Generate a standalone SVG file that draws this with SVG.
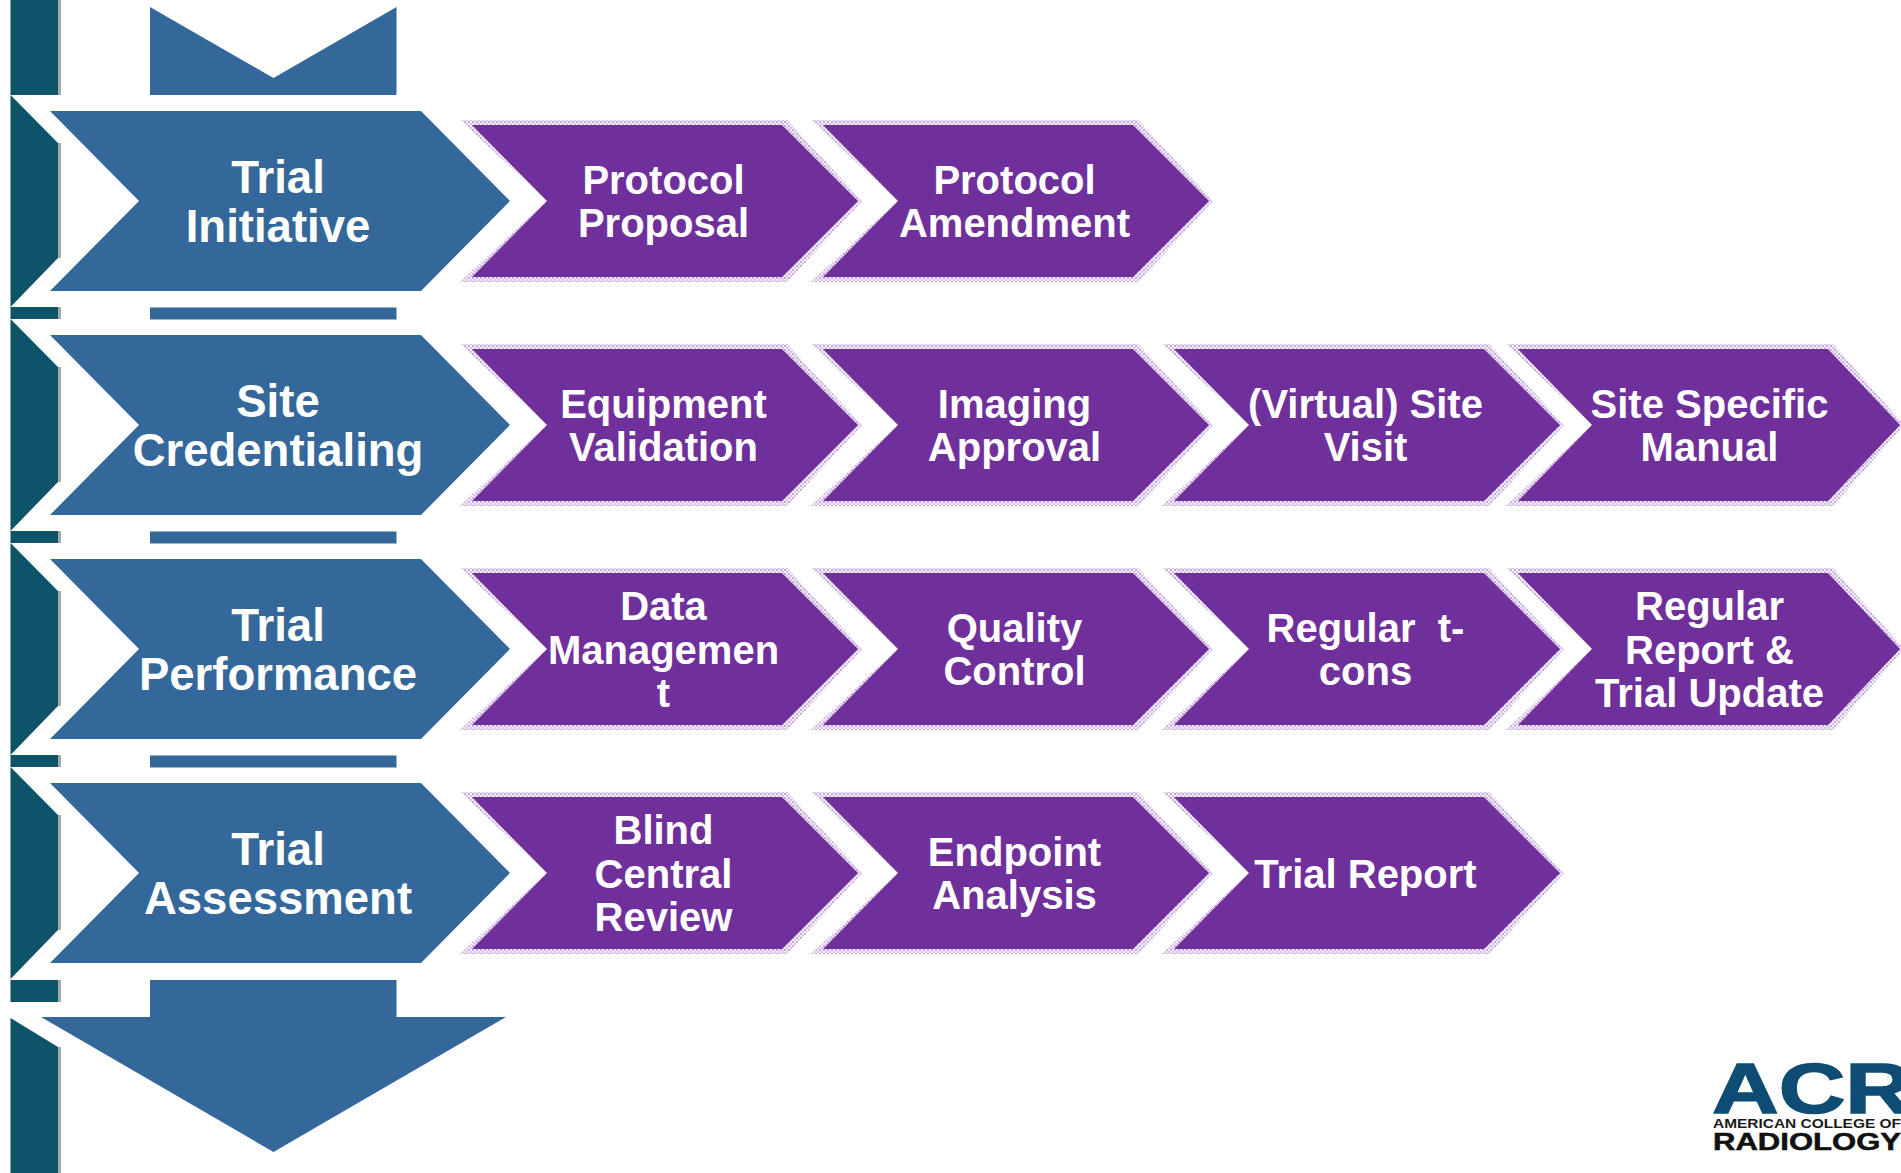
<svg xmlns="http://www.w3.org/2000/svg" width="1901" height="1173" viewBox="0 0 1901 1173">
<defs>
<pattern id="dots" width="4" height="4" patternUnits="userSpaceOnUse"><rect width="4" height="4" fill="#f6f0fa"/><rect width="2" height="2" fill="#c4a6da"/><rect x="2" y="2" width="2" height="2" fill="#d6c2e6"/></pattern>
<polygon id="chev" points="0,0 310,0 386,76 310,152 0,152 75,76"/>
<polygon id="halo" points="-12,-5 315,-5 390,76 315,157 -12,157 75,76"/>
<polygon id="chev4" points="0,0 310,0 382,76 310,152 0,152 74,76"/>
<polygon id="halo4" points="-12,-5 315,-5 386,76 315,157 -12,157 74,76"/>
<polygon id="blue" points="0,0 371,0 460,90 371,180 0,180 89,90"/>
<polygon id="teal" points="0,0 47.5,48 47.5,163 0,212"/>
</defs>
<style>
.t{fill:#0e5368}.g{fill:#a3a9a6}.b{fill:#34689a}.p{fill:#70309b}
.h{fill:url(#dots)}
text{font-family:"Liberation Sans",Arial,sans-serif;font-weight:700;fill:#fff;text-anchor:middle}
.bt{font-size:45.5px}.pt{font-size:40px}
.logo{text-anchor:start}
</style>
<rect width="1901" height="1173" fill="#fff"/>
<g id="spine">
<rect class="g" x="58" y="0" width="3" height="95"/><rect class="t" x="10.5" y="0" width="47.5" height="95"/>
<rect class="g" x="58" y="143" width="3" height="115"/><use href="#teal" class="t" x="10.5" y="95"/>
<rect class="g" x="58" y="307" width="3" height="12"/><rect class="t" x="10.5" y="307" width="47.5" height="12"/>
<rect class="g" x="58" y="367" width="3" height="115"/><use href="#teal" class="t" x="10.5" y="319"/>
<rect class="g" x="58" y="531" width="3" height="12"/><rect class="t" x="10.5" y="531" width="47.5" height="12"/>
<rect class="g" x="58" y="591" width="3" height="115"/><use href="#teal" class="t" x="10.5" y="543"/>
<rect class="g" x="58" y="755" width="3" height="12"/><rect class="t" x="10.5" y="755" width="47.5" height="12"/>
<rect class="g" x="58" y="815" width="3" height="115"/><use href="#teal" class="t" x="10.5" y="767"/>
<rect class="g" x="58" y="980" width="3" height="22"/><rect class="t" x="10.5" y="980" width="47.5" height="22"/>
<rect class="g" x="58" y="1047" width="3" height="126"/><polygon class="t" points="10.5,1018 58,1047 58,1173 10.5,1173"/>
</g>
<g id="arrow-top"><polygon class="b" points="150,7 273.5,78 396.5,7 396.5,95 150,95"/></g>
<g id="arrow-strips"><rect class="b" x="150" y="307.5" width="246.5" height="12"/><rect class="b" x="150" y="531.5" width="246.5" height="12"/><rect class="b" x="150" y="755.5" width="246.5" height="12"/></g>
<g id="arrow-bottom"><polygon class="b" points="150,980 396.5,980 396.5,1017 506,1017 273.5,1152 41,1017 150,1017"/></g>
<g id="trial-initiative"><use href="#blue" class="b" x="50" y="111"/><text class="bt" x="278" y="192.5">Trial</text><text class="bt" x="278" y="241.5">Initiative</text></g>
<g id="site-credentialing"><use href="#blue" class="b" x="50" y="335"/><text class="bt" x="278" y="416.5">Site</text><text class="bt" x="278" y="465.5">Credentialing</text></g>
<g id="trial-performance"><use href="#blue" class="b" x="50" y="559"/><text class="bt" x="278" y="640.5">Trial</text><text class="bt" x="278" y="689.5">Performance</text></g>
<g id="trial-assessment"><use href="#blue" class="b" x="50" y="783"/><text class="bt" x="278" y="864.5">Trial</text><text class="bt" x="278" y="913.5">Assessment</text></g>
<g id="protocol-proposal"><use href="#halo" class="h" x="472" y="125"/><use href="#chev" class="p" x="472" y="125"/><text class="pt" x="663.5" y="193.5">Protocol</text><text class="pt" x="663.5" y="236.5">Proposal</text></g>
<g id="protocol-amendment"><use href="#halo" class="h" x="823" y="125"/><use href="#chev" class="p" x="823" y="125"/><text class="pt" x="1014.5" y="193.5">Protocol</text><text class="pt" x="1014.5" y="236.5">Amendment</text></g>
<g id="equipment-validation"><use href="#halo" class="h" x="472" y="349"/><use href="#chev" class="p" x="472" y="349"/><text class="pt" x="663.5" y="417.5">Equipment</text><text class="pt" x="663.5" y="460.5">Validation</text></g>
<g id="imaging-approval"><use href="#halo" class="h" x="823" y="349"/><use href="#chev" class="p" x="823" y="349"/><text class="pt" x="1014.5" y="417.5">Imaging</text><text class="pt" x="1014.5" y="460.5">Approval</text></g>
<g id="virtual-site-visit"><use href="#halo" class="h" x="1174" y="349"/><use href="#chev" class="p" x="1174" y="349"/><text class="pt" x="1365.5" y="417.5">(Virtual) Site</text><text class="pt" x="1365.5" y="460.5">Visit</text></g>
<g id="site-specific-manual"><use href="#halo4" class="h" x="1518" y="349"/><use href="#chev4" class="p" x="1518" y="349"/><text class="pt" x="1709.5" y="417.5">Site Specific</text><text class="pt" x="1709.5" y="460.5">Manual</text></g>
<g id="data-management"><use href="#halo" class="h" x="472" y="573"/><use href="#chev" class="p" x="472" y="573"/><text class="pt" x="663.5" y="620">Data</text><text class="pt" x="663.5" y="664">Managemen</text><text class="pt" x="663.5" y="707">t</text></g>
<g id="quality-control"><use href="#halo" class="h" x="823" y="573"/><use href="#chev" class="p" x="823" y="573"/><text class="pt" x="1014.5" y="642">Quality</text><text class="pt" x="1014.5" y="685">Control</text></g>
<g id="regular-t-cons"><use href="#halo" class="h" x="1174" y="573"/><use href="#chev" class="p" x="1174" y="573"/><text class="pt" x="1365.5" y="642" xml:space="preserve">Regular  t-</text><text class="pt" x="1365.5" y="685">cons</text></g>
<g id="regular-report"><use href="#halo4" class="h" x="1518" y="573"/><use href="#chev4" class="p" x="1518" y="573"/><text class="pt" x="1709.5" y="620">Regular</text><text class="pt" x="1709.5" y="664">Report &amp;</text><text class="pt" x="1709.5" y="707">Trial Update</text></g>
<g id="blind-central-review"><use href="#halo" class="h" x="472" y="797"/><use href="#chev" class="p" x="472" y="797"/><text class="pt" x="663.5" y="844">Blind</text><text class="pt" x="663.5" y="888">Central</text><text class="pt" x="663.5" y="931">Review</text></g>
<g id="endpoint-analysis"><use href="#halo" class="h" x="823" y="797"/><use href="#chev" class="p" x="823" y="797"/><text class="pt" x="1014.5" y="866">Endpoint</text><text class="pt" x="1014.5" y="909">Analysis</text></g>
<g id="trial-report"><use href="#halo" class="h" x="1174" y="797"/><use href="#chev" class="p" x="1174" y="797"/><text class="pt" x="1365.5" y="888">Trial Report</text></g>
<g id="logo">
<text class="logo" x="1712" y="1113" style="font-size:70px;fill:#0e4c74;stroke:#0e4c74;stroke-width:1.5" textLength="200" lengthAdjust="spacingAndGlyphs">ACR</text>
<text class="logo" x="1713" y="1128" style="font-size:12px;fill:#1a1a1a" textLength="188" lengthAdjust="spacingAndGlyphs">AMERICAN COLLEGE OF</text>
<text class="logo" x="1713" y="1150" style="font-size:23px;fill:#111;stroke:#111;stroke-width:.5" textLength="188" lengthAdjust="spacingAndGlyphs">RADIOLOGY</text>
</g>
</svg>
